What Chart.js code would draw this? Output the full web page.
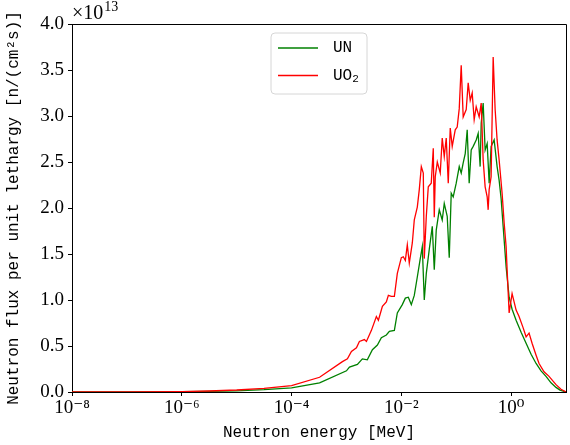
<!DOCTYPE html>
<html>
<head>
<meta charset="utf-8">
<script src="https://cdn.jsdelivr.net/npm/chart.js@4.4.0/dist/chart.umd.min.js"></script>
<style>
  body { margin: 0; background: #fff; }
  canvas { display: block; }
</style>
</head>
<body>
<canvas id="fluxChart" width="570" height="445"></canvas>
<script>
// Neutron energy grid [MeV] and flux per unit lethargy (x1e13 n/(cm2 s))
const energyUN = [
    1e-8, 1e-7, 1e-6, 3.16e-6, 1e-5, 3.16e-5, 1e-4, 3.24e-4, 1e-3, 1.135e-3,
    1.585e-3, 1.95e-3, 2.40e-3, 2.972e-3, 3.664e-3, 4.325e-3, 5.333e-3, 6.053e-3, 7.464e-3, 8.453e-3,
    1.042e-2, 1.183e-2, 1.340e-2, 1.521e-2, 1.722e-2, 1.954e-2, 2.213e-2, 2.410e-2, 2.618e-2, 2.851e-2,
    3.228e-2, 3.664e-2, 3.981e-2, 4.325e-2, 4.909e-2, 5.559e-2, 6.053e-2, 6.855e-2, 7.464e-2, 8.110e-2,
    8.810e-2, 0.1, 0.1135, 0.1233, 0.1340, 0.1459, 0.1585, 0.1722, 0.1875, 0.2037,
    0.2312, 0.2512, 0.2729, 0.2851, 0.3097, 0.3365, 0.3664, 0.3981, 0.4325, 0.4909,
    0.5559, 0.6053, 0.6577, 0.7161, 0.8110, 0.9204, 1.042, 1.233, 1.521, 1.875,
    2.312, 2.851, 3.508, 4.325, 5.333, 6.577, 7.780, 10
];
const fluxUN = [
    0, 0.0007, 0.003, 0.007, 0.013, 0.025, 0.045, 0.10, 0.23, 0.27,
    0.30, 0.36, 0.35, 0.46, 0.51, 0.59, 0.62, 0.66, 0.67, 0.86,
    0.95, 1.02, 1.03, 0.95, 1.05, 1.25, 1.45, 1.58, 1.00, 1.29,
    1.55, 1.80, 1.33, 1.76, 1.98, 1.87, 2.05, 1.91, 1.46, 2.16,
    2.12, 2.27, 2.45, 2.38, 2.49, 2.59, 2.85, 2.27, 2.63, 2.67,
    2.74, 2.81, 2.45, 2.92, 3.14, 2.63, 2.70, 2.27, 2.67, 2.74,
    2.45, 2.30, 2.10, 1.80, 1.36, 1.03, 0.90, 0.78, 0.65, 0.53,
    0.41, 0.31, 0.23, 0.17, 0.10, 0.05, 0.02, 0
];

const energyUO2 = [
    1e-8, 1e-7, 1e-6, 3.16e-6, 1e-5, 3.16e-5, 1e-4, 3.24e-4, 8.45e-4, 1.042e-3,
    1.233e-3, 1.521e-3, 1.722e-3, 2.123e-3, 2.312e-3, 2.851e-3, 3.508e-3, 3.819e-3, 4.519e-3, 5.333e-3,
    5.808e-3, 6.577e-3, 7.464e-3, 8.453e-3, 1e-2, 1.087e-2, 1.183e-2, 1.285e-2, 1.396e-2, 1.585e-2,
    1.722e-2, 1.954e-2, 2.123e-2, 2.312e-2, 2.512e-2, 2.618e-2, 2.851e-2, 3.097e-2, 3.508e-2, 3.819e-2,
    3.981e-2, 4.150e-2, 4.519e-2, 5.117e-2, 5.559e-2, 6.053e-2, 6.577e-2, 7.161e-2, 7.780e-2, 8.453e-2,
    9.594e-2, 0.1042, 0.1135, 0.1233, 0.1340, 0.1521, 0.1652, 0.1799, 0.1954, 0.2123,
    0.2312, 0.2618, 0.2851, 0.3097, 0.3365, 0.3664, 0.3819, 0.3981, 0.4325, 0.4710,
    0.5117, 0.5559, 0.6053, 0.6855, 0.7464, 0.8110, 0.8453, 0.9204, 1.042, 1.233,
    1.396, 1.652, 1.875, 2.123, 2.410, 2.851, 3.228, 3.981, 4.909, 6.577,
    8.110, 10
];
const fluxUO2 = [
    0, 0.001, 0.005, 0.011, 0.022, 0.04, 0.07, 0.16, 0.33, 0.36,
    0.44, 0.48, 0.55, 0.57, 0.55, 0.67, 0.82, 0.78, 0.93, 0.98,
    1.05, 1.04, 1.04, 1.29, 1.46, 1.47, 1.43, 1.60, 1.40, 1.62,
    1.87, 2.01, 2.20, 2.45, 2.38, 1.45, 1.91, 2.23, 2.27, 2.65,
    1.90, 2.34, 2.50, 2.38, 2.76, 2.56, 2.76, 2.27, 2.87, 2.67,
    2.85, 2.88, 3.08, 3.55, 2.99, 3.07, 3.36, 3.17, 3.25, 2.96,
    3.10, 2.99, 3.14, 2.52, 2.23, 2.12, 1.98, 2.20, 2.34, 3.64,
    3.07, 2.74, 2.52, 2.16, 1.84, 1.58, 1.33, 0.86, 1.07, 0.89,
    0.82, 0.70, 0.60, 0.64, 0.53, 0.40, 0.31, 0.22, 0.17, 0.08,
    0.03, 0
];

const xTickValues = [1e-8, 1e-6, 1e-4, 1e-2, 1];
const xTickLabels = ['10⁻⁸', '10⁻⁶', '10⁻⁴', '10⁻²', '10⁰'];
const yTickValues = [0, 0.5, 1.0, 1.5, 2.0, 2.5, 3.0, 3.5, 4.0];

const SERIF = '"Liberation Serif", "DejaVu Serif", serif';
const MONO = '"Liberation Mono", "DejaVu Sans Mono", monospace';

Chart.defaults.color = '#000';

function toPoints(xs, ys) {
    return xs.map((x, i) => ({ x: x, y: ys[i] }));
}

// Frame, offset text and legend (matplotlib style)
const decorPlugin = {
    id: 'decor',
    afterDraw(chart) {
        const ctx = chart.ctx;
        const a = chart.chartArea;
        ctx.save();

        // top and right spines
        ctx.strokeStyle = '#000';
        ctx.lineWidth = 1;
        ctx.beginPath();
        ctx.moveTo(a.left, a.top + 0.5);
        ctx.lineTo(a.right + 0.5, a.top + 0.5);
        ctx.lineTo(a.right + 0.5, a.bottom);
        ctx.stroke();

        // offset text x10^13
        ctx.fillStyle = '#000';
        ctx.textBaseline = 'alphabetic';
        ctx.textAlign = 'left';
        ctx.font = '20px ' + SERIF;
        ctx.fillText('×10', a.left, a.top - 5);
        const w = ctx.measureText('×10').width;
        ctx.font = '14px ' + SERIF;
        ctx.fillText('13', a.left + w + 1, a.top - 13);

        // legend box
        const bx = 271, by = 33, bw = 96, bh = 61, r = 4;
        ctx.beginPath();
        ctx.moveTo(bx + r, by);
        ctx.arcTo(bx + bw, by, bx + bw, by + bh, r);
        ctx.arcTo(bx + bw, by + bh, bx, by + bh, r);
        ctx.arcTo(bx, by + bh, bx, by, r);
        ctx.arcTo(bx, by, bx + bw, by, r);
        ctx.closePath();
        ctx.fillStyle = 'rgba(255,255,255,0.8)';
        ctx.fill();
        ctx.strokeStyle = '#d6d6d6';
        ctx.stroke();

        const rows = [0, 1];
        rows.forEach((idx, i) => {
            const ds = chart.data.datasets[idx];
            const y = 48 + i * 27.5;
            ctx.strokeStyle = ds.borderColor;
            ctx.lineWidth = 1.5;
            ctx.beginPath();
            ctx.moveTo(278, y);
            ctx.lineTo(318, y);
            ctx.stroke();
            ctx.fillStyle = '#000';
            ctx.textBaseline = 'middle';
            ctx.font = '16px ' + MONO;
            if (ds.label === 'UO2') {
                ctx.fillText('UO', 333, y);
                const tw = ctx.measureText('UO').width;
                ctx.font = '11px ' + MONO;
                ctx.fillText('2', 333 + tw, y + 4);
            } else {
                ctx.fillText(ds.label, 333, y);
            }
        });
        ctx.restore();
    }
};

new Chart(document.getElementById('fluxChart'), {
    type: 'line',
    data: {
        datasets: [
            {
                label: 'UN',
                data: toPoints(energyUN, fluxUN),
                borderColor: '#008000',
                borderWidth: 1.3,
                pointRadius: 0,
                tension: 0,
                order: 1
            },
            {
                label: 'UO2',
                data: toPoints(energyUO2, fluxUO2),
                borderColor: '#ff0000',
                borderWidth: 1.3,
                pointRadius: 0,
                tension: 0,
                order: 0
            }
        ]
    },
    options: {
        responsive: false,
        animation: false,
        devicePixelRatio: 1,
        layout: { padding: { left: 0, top: 24, right: 4, bottom: 0 } },
        plugins: {
            legend: { display: false },
            tooltip: { enabled: false }
        },
        scales: {
            x: {
                type: 'logarithmic',
                min: 1e-8,
                max: 10,
                afterBuildTicks(scale) {
                    scale.ticks = xTickValues.map(v => ({ value: v }));
                },
                afterFit(scale) { scale.height = 53; },
                ticks: {
                    autoSkip: false,
                    maxRotation: 0,
                    padding: 1,
                    font: { family: SERIF, size: 19 },
                    callback: (v) => xTickLabels[xTickValues.indexOf(v)]
                },
                grid: { drawOnChartArea: false, drawTicks: true, tickLength: 4, color: '#000' },
                border: { display: true, color: '#000', width: 1 },
                title: {
                    display: true,
                    text: 'Neutron energy [MeV]',
                    font: { family: MONO, size: 16 },
                    padding: { top: 0, bottom: 3 }
                }
            },
            y: {
                min: 0,
                max: 4.0,
                afterBuildTicks(scale) {
                    scale.ticks = yTickValues.map(v => ({ value: v }));
                },
                afterFit(scale) { scale.width = 72; },
                ticks: {
                    padding: 4,
                    font: { family: SERIF, size: 19 },
                    callback: (v) => v.toFixed(1)
                },
                grid: { drawOnChartArea: false, drawTicks: true, tickLength: 4, color: '#000' },
                border: { display: true, color: '#000', width: 1 },
                title: {
                    display: true,
                    text: 'Neutron flux per unit lethargy [n/(cm²s)]',
                    font: { family: MONO, size: 16 },
                    padding: { top: 4, bottom: 0 }
                }
            }
        }
    },
    plugins: [decorPlugin]
});
</script>
</body>
</html>
